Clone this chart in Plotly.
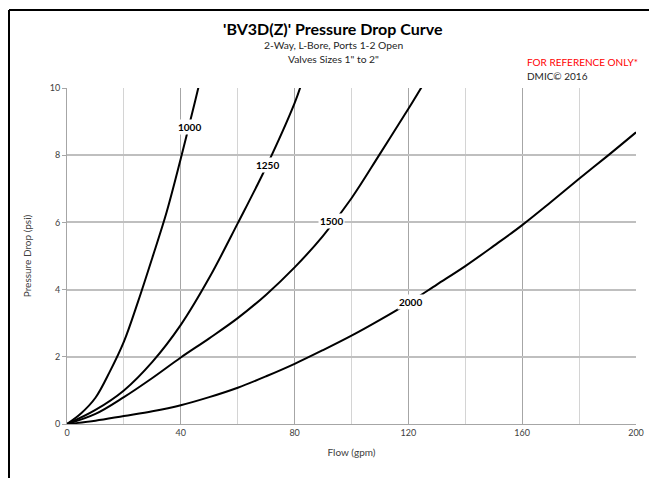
import plotly.graph_objects as go

# Flow (gpm) and pressure drop (psi), one series per Cv curve
q_1000 = [0, 5, 10, 15, 20, 25, 30, 35, 40, 45, 46.2]
p_1000 = [0, 0.32, 0.78, 1.55, 2.45, 3.65, 4.95, 6.3, 7.9, 9.6, 10.02]

q_1250 = [0, 10, 20, 30, 40, 50, 60, 70, 80, 82.0]
p_1250 = [0, 0.42, 1.0, 1.85, 2.95, 4.35, 5.97, 7.65, 9.55, 10.02]

q_1500 = [0, 10, 20, 30, 40, 50, 60, 70, 80, 90, 100, 110, 120, 124.6]
p_1500 = [0, 0.30, 0.80, 1.37, 1.98, 2.55, 3.15, 3.85, 4.66, 5.6, 6.72, 8.04, 9.38, 10.02]

q_2000 = [0, 10, 20, 30, 40, 50, 60, 70, 80, 90, 100, 110, 120, 130, 140, 150, 160, 170, 180, 190, 200]
p_2000 = [0, 0.1, 0.24, 0.38, 0.56, 0.8, 1.08, 1.42, 1.79, 2.2, 2.63, 3.1, 3.6, 4.15, 4.7, 5.3, 5.92, 6.6, 7.3, 7.98, 8.68]

curve_names = ["1000", "1250", "1500", "2000"]
label_q = [43.0, 70.4, 93.0, 120.7]
label_p = [8.83, 7.71, 6.04, 3.63]

x_ticks = [0, 40, 80, 120, 160, 200]
y_ticks = [0, 2, 4, 6, 8, 10]

FONT = "Lato"

fig = go.Figure()
for q, p, name in zip([q_1000, q_1250, q_1500, q_2000],
                      [p_1000, p_1250, p_1500, p_2000], curve_names):
    fig.add_trace(go.Scatter(x=q, y=p, mode="lines", name=name,
                             line=dict(color="black", width=2, shape="spline", smoothing=1.0),
                             showlegend=False, hoverinfo="skip"))

for name, lq, lp in zip(curve_names, label_q, label_p):
    fig.add_annotation(x=lq, y=lp, text="<b>%s</b>" % name, showarrow=False,
                       font=dict(family=FONT, size=10, color="black"),
                       bgcolor="white", borderpad=1)

# page is offset by the 8px body margin; margins compensate for it
ML, MR, MT, MB = 59, 29, 80, 62
PW = 657 - ML - MR
PH = 478 - MT - MB
BOTTOM = 478 - MB  # figure-pixel y of the plot bottom


def px(xp):  # page x -> paper x
    return (xp - 8 - ML) / PW


def py(yp):  # page y -> paper y
    return (BOTTOM - (yp - 8)) / PH


fig.update_layout(
    width=657, height=478,
    margin=dict(l=ML, r=MR, t=MT, b=MB),
    paper_bgcolor="white", plot_bgcolor="white",
    font=dict(family=FONT, color="#404040"),
    xaxis=dict(range=[0, 200], tickvals=x_ticks, showgrid=True, gridcolor="#A6A6A6",
               gridwidth=1, zeroline=False, showline=True, linecolor="#A6A6A6",
               tickfont=dict(size=9, color="#404040"), ticks="", ticklen=0,
               minor=dict(dtick=20, showgrid=True, gridcolor="#D4D4D4", gridwidth=1),
               title=dict(text="Flow (gpm)", font=dict(size=10, color="#404040"), standoff=12),
               fixedrange=True),
    yaxis=dict(range=[0, 10], tickvals=y_ticks, showgrid=True, gridcolor="#BFBFBF",
               gridwidth=1.5, zeroline=False, showline=True, linecolor="#A6A6A6",
               ticks="outside", ticklen=4, tickcolor="#A6A6A6",
               tickfont=dict(size=9, color="#404040"),
               title=dict(text="Pressure Drop (psi)", font=dict(size=10, color="#404040"), standoff=16),
               fixedrange=True),
)

# Titles
CX = px(333)
fig.add_annotation(xref="paper", yref="paper", x=CX, y=py(29),
                   text="<b>'BV3D(Z)' Pressure Drop Curve</b>", showarrow=False,
                   font=dict(family=FONT, size=16, color="black"), yanchor="middle")
fig.add_annotation(xref="paper", yref="paper", x=CX, y=py(45),
                   text="2-Way, L-Bore, Ports 1-2 Open", showarrow=False,
                   font=dict(family=FONT, size=10.3, color="#262626"), yanchor="middle")
fig.add_annotation(xref="paper", yref="paper", x=CX, y=py(59),
                   text="Valves Sizes 1\" to 2\"", showarrow=False,
                   font=dict(family=FONT, size=10.3, color="#262626"), yanchor="middle")
fig.add_annotation(xref="paper", yref="paper", x=px(525), y=py(62.5),
                   text="FOR REFERENCE ONLY*", showarrow=False, xanchor="left",
                   font=dict(family=FONT, size=10, color="#FF0000"), yanchor="middle")
fig.add_annotation(xref="paper", yref="paper", x=px(525), y=py(75.5),
                   text="DMIC© 2016", showarrow=False, xanchor="left",
                   font=dict(family=FONT, size=10, color="#262626"), yanchor="middle")

# Outer frame (top and left edges visible)
top_y = py(10)
left_x = px(9)
fig.add_shape(type="line", xref="paper", yref="paper", x0=left_x, x1=1.2, y0=top_y, y1=top_y,
              line=dict(color="black", width=2))
fig.add_shape(type="line", xref="paper", yref="paper", x0=left_x, x1=left_x, y0=top_y, y1=-0.3,
              line=dict(color="black", width=2))

fig.write_html("out.html")
